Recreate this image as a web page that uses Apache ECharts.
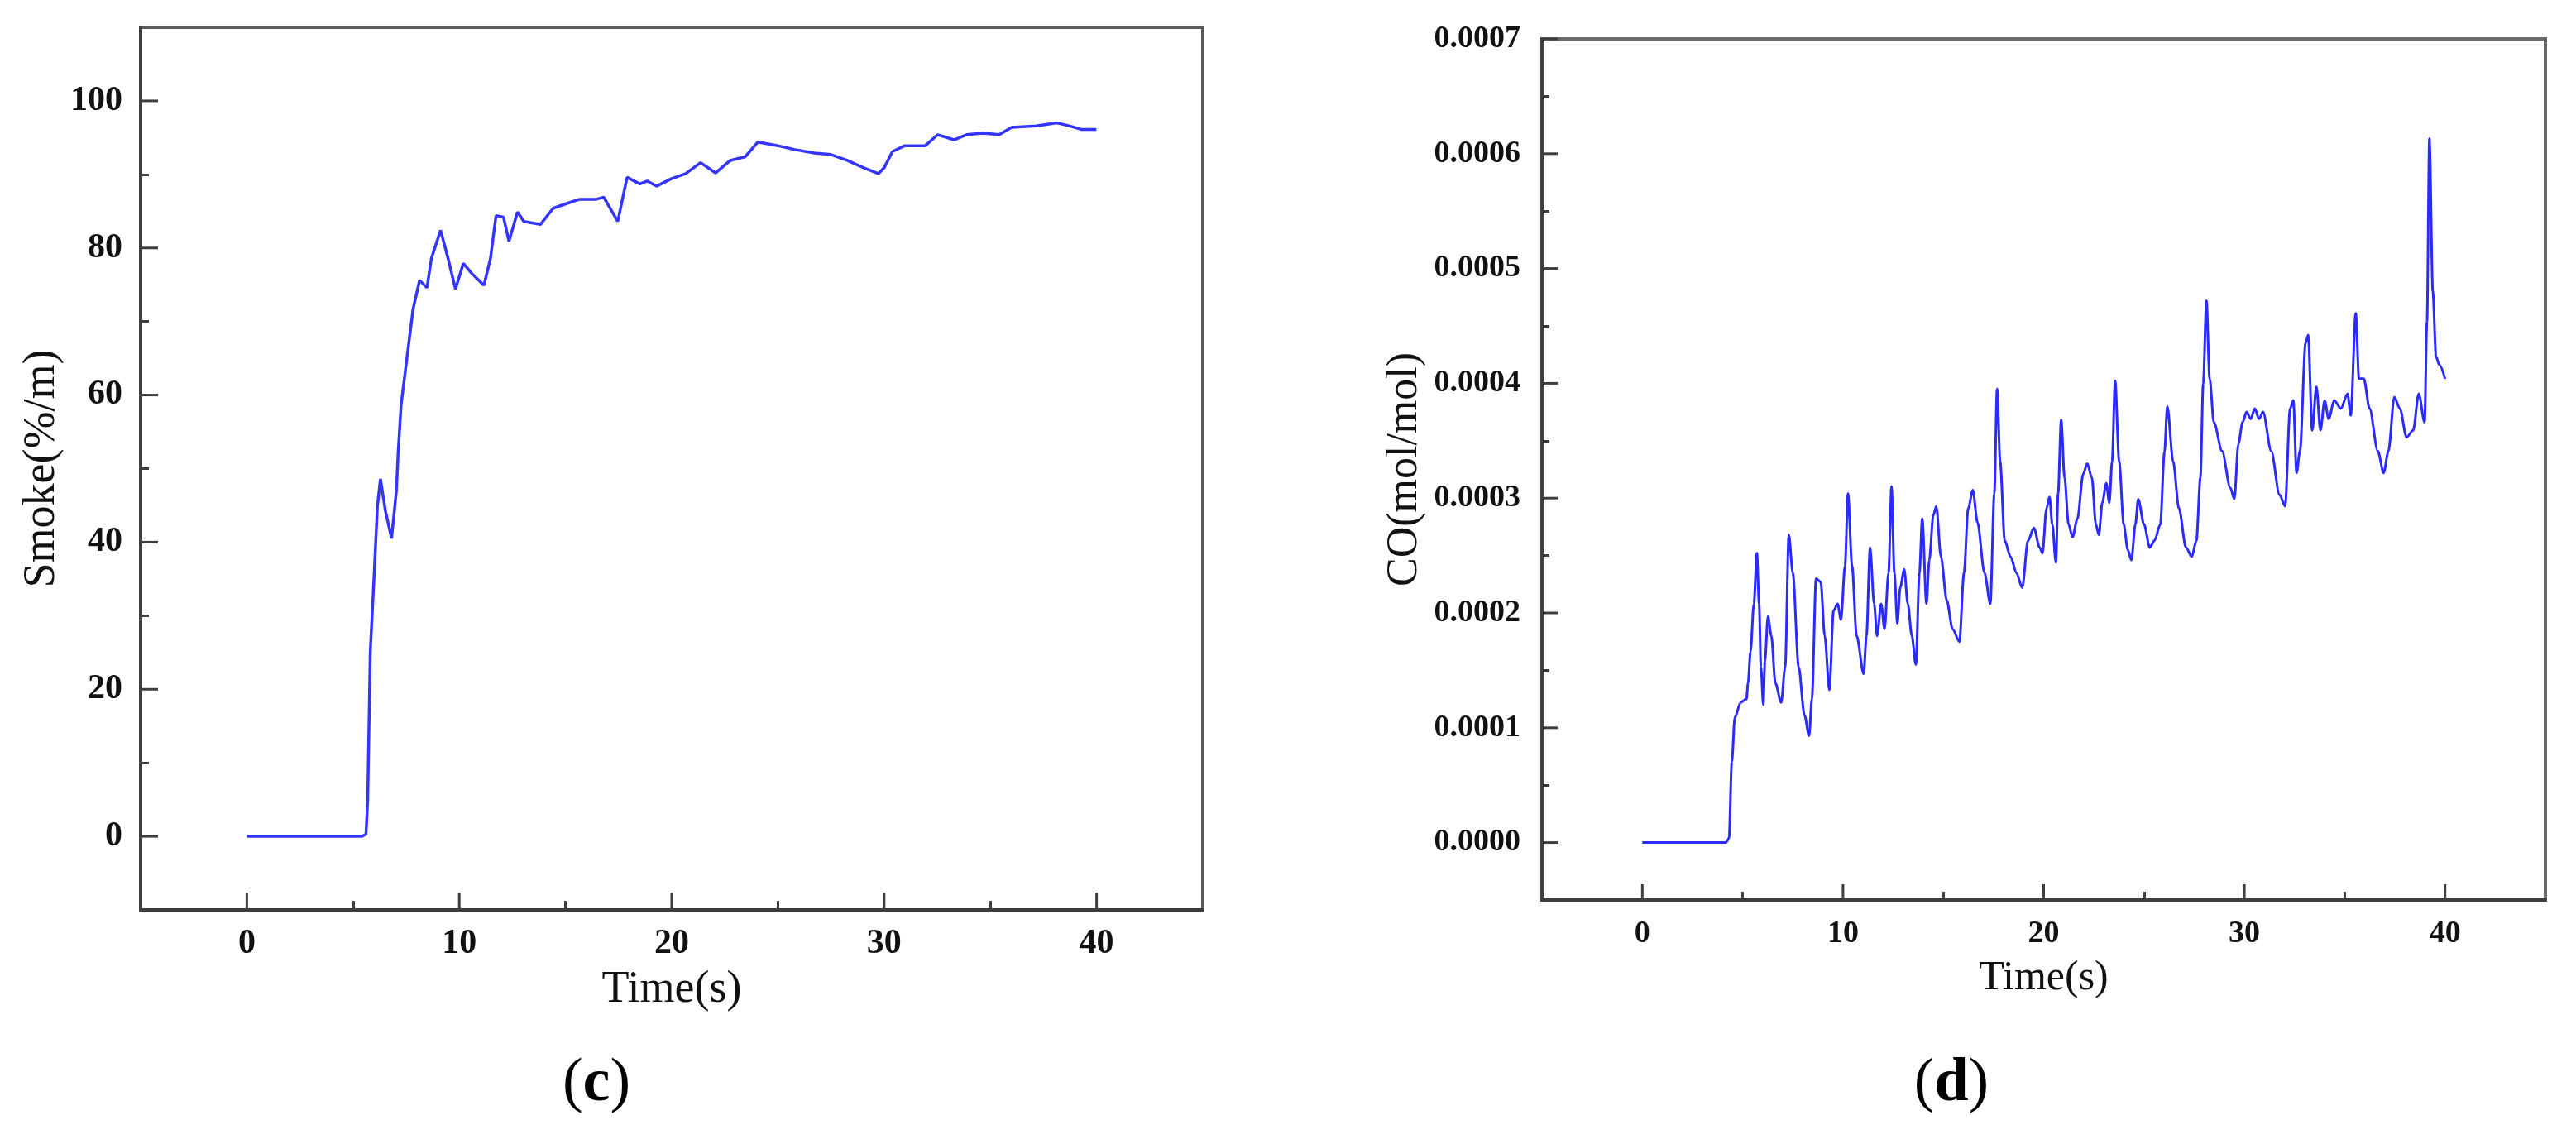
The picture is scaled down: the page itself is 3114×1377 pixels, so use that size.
<!DOCTYPE html>
<html>
<head>
<meta charset="utf-8">
<title>Smoke and CO</title>
<script src="https://cdn.jsdelivr.net/npm/echarts@6/dist/echarts.min.js"></script>
<style>
	html, body { margin: 0; padding: 0; background: #fff; }
	#chart { width: 3114px; height: 1377px; }
</style>
</head>
<body>
<div id="chart"></div>
<script type="text/javascript">
// (c) smoke
var smokeTime = [0, 5.42, 5.61, 5.69, 5.81, 6.0, 6.15, 6.29, 6.52, 6.81, 7.04, 7.12, 7.26, 7.56, 7.82, 8.13, 8.48, 8.69, 9.12, 9.47,
	9.82, 10.19, 10.6, 11.16, 11.47, 11.73, 12.08, 12.34, 12.74, 13.04, 13.82, 14.42, 15.12, 15.64, 16.42, 16.8, 17.46, 17.9, 18.5, 18.85,
	19.28, 19.98, 20.66, 21.36, 22.06, 22.76, 23.46, 24.06, 25.0, 25.75, 26.71, 27.49, 28.26, 29.04, 29.73, 30.0, 30.39, 30.97, 31.94, 32.52,
	33.29, 33.88, 34.65, 35.42, 36.0, 37.17, 38.13, 38.71, 39.3, 39.99];
var smokeValue = [0, 0, 0.3, 5, 25, 36, 45, 48.6, 44.3, 40.5, 47, 52, 58.6, 65.6, 71.6, 75.6, 74.6, 78.6, 82.4, 78.6,
	74.4, 77.9, 76.5, 74.9, 78.6, 84.4, 84.2, 80.9, 84.9, 83.6, 83.2, 85.4, 86.1, 86.6, 86.6, 86.9, 83.6, 89.6, 88.7, 89.1,
	88.4, 89.4, 90.1, 91.6, 90.2, 91.9, 92.4, 94.4, 93.9, 93.4, 92.9, 92.7, 91.9, 90.9, 90.1, 90.9, 93.1, 93.9, 93.9, 95.4,
	94.7, 95.4, 95.6, 95.4, 96.4, 96.6, 97.0, 96.6, 96.1, 96.1];

// (d) CO
var coTime = [0, 4.17, 4.32, 4.46, 4.61, 4.9, 5.19, 5.27, 5.39, 5.56, 5.71, 5.82, 5.91, 6.03, 6.11, 6.26, 6.43, 6.63, 6.92, 7.12,
	7.3, 7.5, 7.79, 8.08, 8.31, 8.45, 8.66, 8.89, 9.09, 9.32, 9.53, 9.73, 9.9, 10.1, 10.25, 10.45, 10.68, 11.03, 11.17, 11.35,
	11.55, 11.7, 11.9, 12.07, 12.27, 12.42, 12.56, 12.71, 12.85, 13.05, 13.23, 13.43, 13.63, 13.81, 13.95, 14.16, 14.3, 14.5, 14.65, 14.88,
	15.17, 15.46, 15.8, 16.03, 16.24, 16.47, 16.7, 17.05, 17.34, 17.54, 17.68, 17.83, 18.06, 18.35, 18.64, 18.93, 19.22, 19.51, 19.8, 19.94,
	20.14, 20.29, 20.43, 20.61, 20.72, 20.87, 21.04, 21.24, 21.44, 21.68, 21.97, 22.17, 22.4, 22.6, 22.75, 22.92, 23.12, 23.27, 23.41, 23.56,
	23.76, 23.99, 24.19, 24.37, 24.57, 24.71, 25.0, 25.29, 25.52, 25.81, 26.02, 26.16, 26.45, 26.74, 27.09, 27.38, 27.61, 27.81, 27.95, 28.11,
	28.27, 28.48, 28.89, 29.3, 29.5, 29.7, 29.91, 30.11, 30.32, 30.52, 30.73, 30.93, 31.34, 31.75, 32.03, 32.28, 32.44, 32.6, 32.77, 33.05,
	33.18, 33.38, 33.59, 33.79, 34.0, 34.2, 34.48, 34.81, 35.14, 35.3, 35.55, 35.71, 35.95, 36.24, 36.65, 36.94, 37.18, 37.47, 37.75, 38.08,
	38.41, 38.69, 38.98, 39.1, 39.22, 39.39, 39.55, 39.72, 40.0];
var coValue = [0, 0, 0.000004, 0.00007, 0.000109, 0.000122, 0.000125, 0.000139, 0.000166, 0.000208, 0.000252, 0.000208, 0.000153, 0.00012, 0.000158, 0.000197, 0.00018, 0.000139, 0.000122, 0.000153,
	0.000268, 0.000235, 0.000153, 0.000111, 0.000093, 0.000125, 0.00023, 0.000227, 0.00018, 0.000133, 0.000202, 0.000208, 0.000194, 0.000241, 0.000304, 0.000241, 0.00018, 0.000147, 0.00018, 0.000257,
	0.000208, 0.00018, 0.000208, 0.000186, 0.000235, 0.00031, 0.000235, 0.000191, 0.000222, 0.000238, 0.000208, 0.00018, 0.000155, 0.000235, 0.000282, 0.000208, 0.000246, 0.000285, 0.000293, 0.000249,
	0.000211, 0.000186, 0.000175, 0.000235, 0.000291, 0.000307, 0.000279, 0.000235, 0.000208, 0.000304, 0.000395, 0.000332, 0.000263, 0.000249, 0.000235, 0.000222, 0.000263, 0.000274, 0.000257, 0.000252,
	0.000291, 0.000301, 0.000277, 0.000244, 0.000304, 0.000368, 0.000318, 0.000277, 0.000266, 0.000282, 0.000321, 0.00033, 0.000318, 0.000277, 0.000268, 0.000296, 0.000313, 0.000296, 0.000332, 0.000402,
	0.000332, 0.000277, 0.000255, 0.000246, 0.000277, 0.000299, 0.000277, 0.000257, 0.000263, 0.000277, 0.00034, 0.00038, 0.000332, 0.000291, 0.000257, 0.000249, 0.000263, 0.000318, 0.0004, 0.000472,
	0.000404, 0.000366, 0.000341, 0.000309, 0.000299, 0.000347, 0.000366, 0.000375, 0.000369, 0.000378, 0.000369, 0.000375, 0.000341, 0.000303, 0.000293, 0.000378, 0.000385, 0.000322, 0.000341, 0.000435,
	0.000442, 0.000359, 0.000397, 0.000359, 0.000385, 0.000369, 0.000385, 0.000378, 0.000391, 0.000372, 0.000461, 0.000404, 0.000404, 0.000378, 0.000341, 0.000322, 0.000341, 0.000388, 0.000378, 0.000353,
	0.000359, 0.000391, 0.000366, 0.000454, 0.000613, 0.00048, 0.000423, 0.000416, 0.000404];

// tick labels
var timeTicks = [0, 10, 20, 30, 40];
var timeMinor = [5, 15, 25, 35];
var smokeTicks = [0, 20, 40, 60, 80, 100];
var smokeMinor = [10, 30, 50, 70, 90];
var coTicks = [0, 0.0001, 0.0002, 0.0003, 0.0004, 0.0005, 0.0006, 0.0007];
var coMinor = [0.00005, 0.00015, 0.00025, 0.00035, 0.00045, 0.00055, 0.00065];

var serif = 'Liberation Serif';
var ink = '#111';
var axisCol = '#3e3e3e';

function pairs(xs, ys) {
	return xs.map(function (x, i) { return [x, ys[i]]; });
}

// axis with line, labels and name
function mainAxis(grid, pos, min, max, ticks, opts) {
	return {
		type: 'value', gridIndex: grid, position: pos, min: min, max: max,
		axisLine: {show: true, onZero: false, lineStyle: {color: axisCol, width: 4}},
		axisTick: {show: false},
		axisLabel: {customValues: ticks, fontFamily: serif, fontWeight: 'bold', fontSize: opts.fontSize, color: ink,
			margin: opts.margin, formatter: opts.formatter},
		splitLine: {show: false},
		name: opts.name, nameLocation: 'middle', nameGap: opts.nameGap,
		nameTextStyle: {fontFamily: serif, fontSize: opts.nameSize, color: ink}
	};
}

// extra axis on the same side that only draws the short ticks
function tickAxis(grid, pos, min, max, ticks, len) {
	return {
		type: 'value', gridIndex: grid, position: pos, offset: 0, min: min, max: max,
		axisLine: {show: false, onZero: false},
		axisTick: {show: true, inside: true, length: len, customValues: ticks, lineStyle: {color: axisCol, width: 3}},
		axisLabel: {show: false},
		splitLine: {show: false}
	};
}

var captions = [
	{id: 'capC', type: 'text', x: 721, y: 1311, style: {text: '{p|(}{b|c}{p|)}', align: 'center', verticalAlign: 'middle',
		rich: {p: {fontFamily: serif, fontSize: 74, fill: '#000'}, b: {fontFamily: serif, fontSize: 74, fontWeight: 'bold', fill: '#000'}}}},
	{id: 'capD', type: 'text', x: 2359, y: 1311, style: {text: '{p|(}{b|d}{p|)}', align: 'center', verticalAlign: 'middle',
		rich: {p: {fontFamily: serif, fontSize: 74, fill: '#000'}, b: {fontFamily: serif, fontSize: 74, fontWeight: 'bold', fill: '#000'}}}}
];

var myChart = echarts.init(document.getElementById('chart'));
var option = {
	backgroundColor: '#fff',
	animation: false,
	grid: [
		{left: 170, top: 33, width: 1284, height: 1067, show: true, borderColor: '#5a5a5a', borderWidth: 4},
		{left: 1864, top: 47, width: 1213, height: 1041, show: true, borderColor: '#6a6a6a', borderWidth: 4}
	],
	xAxis: [
		mainAxis(0, 'bottom', -5, 45, timeTicks, {fontSize: 42, margin: 20, name: 'Time(s)', nameGap: 70, nameSize: 54}),
		tickAxis(0, 'bottom', -5, 45, timeMinor, 11),
		mainAxis(1, 'bottom', -5, 45, timeTicks, {fontSize: 38, margin: 22, name: 'Time(s)', nameGap: 70, nameSize: 50}),
		tickAxis(1, 'bottom', -5, 45, timeMinor, 10)
	],
	yAxis: [
		mainAxis(0, 'left', -10, 110, smokeTicks, {fontSize: 42, margin: 22, name: 'Smoke(%/m)', nameGap: 92, nameSize: 54}),
		tickAxis(0, 'left', -10, 110, smokeMinor, 10),
		mainAxis(1, 'left', -0.00005, 0.0007, coTicks, {fontSize: 38, margin: 26, name: 'CO(mol/mol)', nameGap: 140, nameSize: 52,
			formatter: function (v) { return v.toFixed(4); }}),
		tickAxis(1, 'left', -0.00005, 0.0007, coMinor, 9)
	],
	series: [
		{
			name: 'Smoke', type: 'line', xAxisIndex: 0, yAxisIndex: 0,
			data: pairs(smokeTime, smokeValue),
			showSymbol: false,
			lineStyle: {color: '#3434ff', width: 3.5}
		},
		{
			name: 'CO', type: 'line', xAxisIndex: 2, yAxisIndex: 2,
			data: pairs(coTime, coValue),
			showSymbol: false,
			smooth: 0.3, smoothMonotone: 'x',
			lineStyle: {color: '#2a2aff', width: 3}
		}
	],
	graphic: captions
};
myChart.setOption(option);

// long ticks at the labelled values; axisTick drops them there, so draw
// them as lines placed through the axes' own scales
function majorTicks(axisIdx, xTicks, yTicks, xMin, yMin, len) {
	var finder = {xAxisIndex: axisIdx, yAxisIndex: axisIdx};
	var els = [];
	xTicks.forEach(function (t) {
		var p = myChart.convertToPixel(finder, [t, yMin]);
		els.push({type: 'line', z: 20, shape: {x1: p[0], y1: p[1], x2: p[0], y2: p[1] - len},
			style: {stroke: axisCol, lineWidth: 3}});
	});
	yTicks.forEach(function (t) {
		var p = myChart.convertToPixel(finder, [xMin, t]);
		els.push({type: 'line', z: 20, shape: {x1: p[0], y1: p[1], x2: p[0] + len, y2: p[1]},
			style: {stroke: axisCol, lineWidth: 3}});
	});
	return els;
}

var tickEls = majorTicks(0, timeTicks, smokeTicks, -5, -10, 21)
	.concat(majorTicks(2, timeTicks, coTicks, -5, -0.00005, 19));
myChart.setOption({graphic: captions.concat(tickEls)});

window.addEventListener("resize", function () {
	myChart.resize();
});
</script>
</body>
</html>
